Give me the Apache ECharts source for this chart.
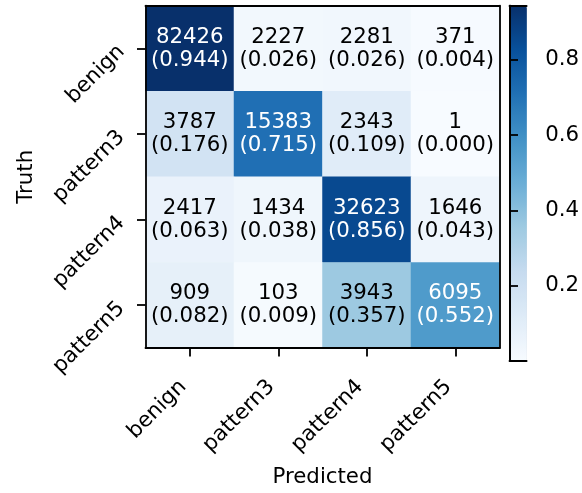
<!DOCTYPE html>
<html>
<head>
<meta charset="utf-8">
<script src="https://cdn.jsdelivr.net/npm/echarts@6/dist/echarts.min.js"></script>
<style>
  html, body { margin: 0; padding: 0; background: #fff; }
  #chart { width: 582px; height: 493px; }
</style>
</head>
<body>
<div id="chart"></div>
<script>
// Class names (rows = truth, columns = predicted)
const classes = ['benign', 'pattern3', 'pattern4', 'pattern5'];

// Raw counts per truth row
const rowBenign   = [82426, 2227, 2281, 371];
const rowPattern3 = [3787, 15383, 2343, 1];
const rowPattern4 = [2417, 1434, 32623, 1646];
const rowPattern5 = [909, 103, 3943, 6095];
const counts = [rowBenign, rowPattern3, rowPattern4, rowPattern5];

// Colour bar tick values
const barTicks = [0.2, 0.4, 0.6, 0.8];

// matplotlib "Blues" colormap stops
const blues = ['#f7fbff', '#deebf7', '#c6dbef', '#9ecae1', '#6baed6',
               '#4292c6', '#2171b5', '#08519c', '#08306b'];

const FONT = 'DejaVu Sans';
const FS = 21.3;
const LW = 1.8;        // spine / tick line width
const TICK_LEN = 8.5;  // outward tick length
const PAD = 17.5;      // axis line to tick label

// Row-normalised proportions
const props = counts.map(r => {
  const s = r.reduce((a, b) => a + b, 0);
  return r.map(v => v / s);
});
let vmin = Infinity, vmax = -Infinity;
props.forEach(r => r.forEach(v => { vmin = Math.min(vmin, v); vmax = Math.max(vmax, v); }));
const thresh = (vmin + vmax) / 2;

const data = [];
props.forEach((r, i) => r.forEach((p, j) => {
  data.push({
    value: [j, i, p, counts[i][j]],
    label: { color: p > thresh ? '#ffffff' : '#000000' }
  });
}));

const frameAxis = { show: true, lineStyle: { color: '#000', width: LW } };
const tickStyle = { show: true, alignWithLabel: true, length: TICK_LEN, lineStyle: { color: '#000', width: LW } };

const chart = echarts.init(document.getElementById('chart'), null, { renderer: 'canvas' });
chart.setOption({
  animation: false,
  backgroundColor: '#ffffff',
  textStyle: { fontFamily: FONT },
  grid: [
    { left: 145.5, top: 5.7, width: 354, height: 355, containLabel: false },
    { left: 509.5, top: 5.7, width: 17.4, height: 355, containLabel: false }
  ],
  xAxis: [
    {
      type: 'category', data: classes, gridIndex: 0, position: 'bottom', z: 10,
      axisLine: frameAxis,
      axisTick: tickStyle,
      axisLabel: {
        rotate: 45, align: 'right', verticalAlign: 'top',
        padding: [0, 20, 0, 0],
        fontFamily: FONT, fontSize: FS, color: '#000', margin: 14
      },
      splitLine: { show: false },
      name: 'Predicted', nameLocation: 'middle', nameGap: 119,
      nameTextStyle: { fontFamily: FONT, fontSize: FS, color: '#000' }
    },
    {
      type: 'category', data: classes, gridIndex: 0, position: 'top', z: 10,
      axisLine: frameAxis, axisTick: { show: false }, axisLabel: { show: false }
    },
    {
      type: 'value', gridIndex: 1, position: 'bottom', min: 0, max: 1, z: 10,
      axisLine: frameAxis, axisTick: { show: false }, axisLabel: { show: false }, splitLine: { show: false }
    },
    {
      type: 'value', gridIndex: 1, position: 'top', min: 0, max: 1, z: 10,
      axisLine: frameAxis, axisTick: { show: false }, axisLabel: { show: false }, splitLine: { show: false }
    }
  ],
  yAxis: [
    {
      type: 'category', data: classes, inverse: true, gridIndex: 0, position: 'left', z: 10,
      axisLine: frameAxis,
      axisTick: tickStyle,
      axisLabel: {
        rotate: 45, align: 'right', verticalAlign: 'middle',
        fontFamily: FONT, fontSize: FS, color: '#000', margin: 24
      },
      splitLine: { show: false },
      name: 'Truth', nameLocation: 'middle', nameGap: 109,
      nameTextStyle: { fontFamily: FONT, fontSize: FS, color: '#000' }
    },
    {
      type: 'category', data: classes, inverse: true, gridIndex: 0, position: 'right', z: 10,
      axisLine: frameAxis, axisTick: { show: false }, axisLabel: { show: false }
    },
    {
      type: 'value', gridIndex: 1, position: 'left', min: vmin, max: vmax, z: 10,
      axisLine: frameAxis, axisTick: { show: false }, axisLabel: { show: false }, splitLine: { show: false }
    },
    {
      type: 'value', gridIndex: 1, position: 'right', min: vmin, max: vmax, z: 10,
      axisLine: frameAxis,
      axisTick: { show: true, length: TICK_LEN, customValues: barTicks, lineStyle: { color: '#000', width: LW } },
      axisLabel: {
        show: true, customValues: barTicks, fontFamily: FONT, fontSize: FS, color: '#000', margin: PAD + 1,
        formatter: v => v.toFixed(1)
      },
      splitLine: { show: false }
    }
  ],
  visualMap: {
    type: 'continuous',
    min: vmin, max: vmax,
    dimension: 2,
    seriesIndex: 0,
    orient: 'vertical',
    left: 509.5, top: 5.7,
    itemWidth: 17.4, itemHeight: 355,
    padding: 0,
    calculable: false,
    hoverLink: false,
    text: ['', ''],
    showLabel: false,
    inRange: { color: blues }
  },
  series: [{
    type: 'heatmap',
    xAxisIndex: 0, yAxisIndex: 0,
    data: data,
    label: {
      show: true,
      fontFamily: FONT,
      fontSize: FS,
      lineHeight: 23,
      formatter: p => p.value[3] + '\n(' + p.value[2].toFixed(3) + ')'
    },
    itemStyle: { borderWidth: 0 },
    emphasis: { disabled: true }
  }]
});
</script>
</body>
</html>
